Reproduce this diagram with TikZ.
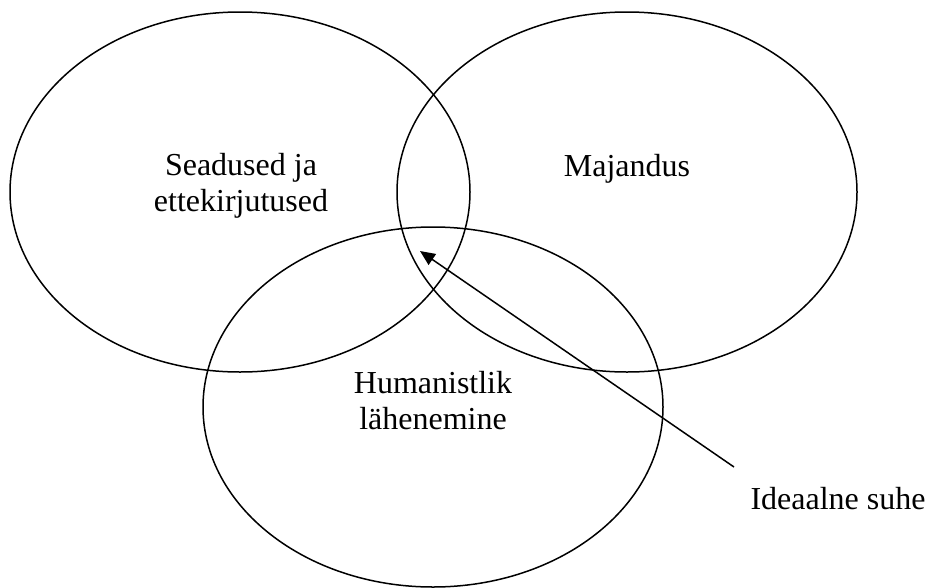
\documentclass[tikz,border=0pt]{standalone}
\usepackage{fontspec}
\setmainfont{Liberation Serif}
\usetikzlibrary{shapes.geometric,arrows.meta}
\begin{document}
\begin{tikzpicture}[x=1pt,y=-1pt,
  venn/.style={draw=black,line width=1.5pt,ellipse,minimum width=460pt,minimum height=360pt,inner sep=0pt},
  lbl/.style={font=\fontsize{32}{36}\selectfont,align=center,inner sep=0pt},
  pointer/.style={line width=1.5pt,-{Triangle[length=15pt,width=13pt]}}]
\useasboundingbox (0,0) rectangle (928,587);
\node[venn] (law) at (240,192) {};
\node[venn] (econ) at (627,192) {};
\node[venn] (hum) at (433,407) {};
\node[lbl] (lawt) at (241,186) {Seadused ja\\ettekirjutused};
\node[lbl] (econt) at (627,169) {Majandus};
\node[lbl] (humt) at (433,401) {Humanistlik\\lähenemine};
\node[lbl] (ideal) at (838,499) {Ideaalne suhe};
\coordinate (from) at (734,467);
\coordinate (tip) at (420,251);
\draw[pointer] (from) -- (tip);
\end{tikzpicture}
\end{document}
